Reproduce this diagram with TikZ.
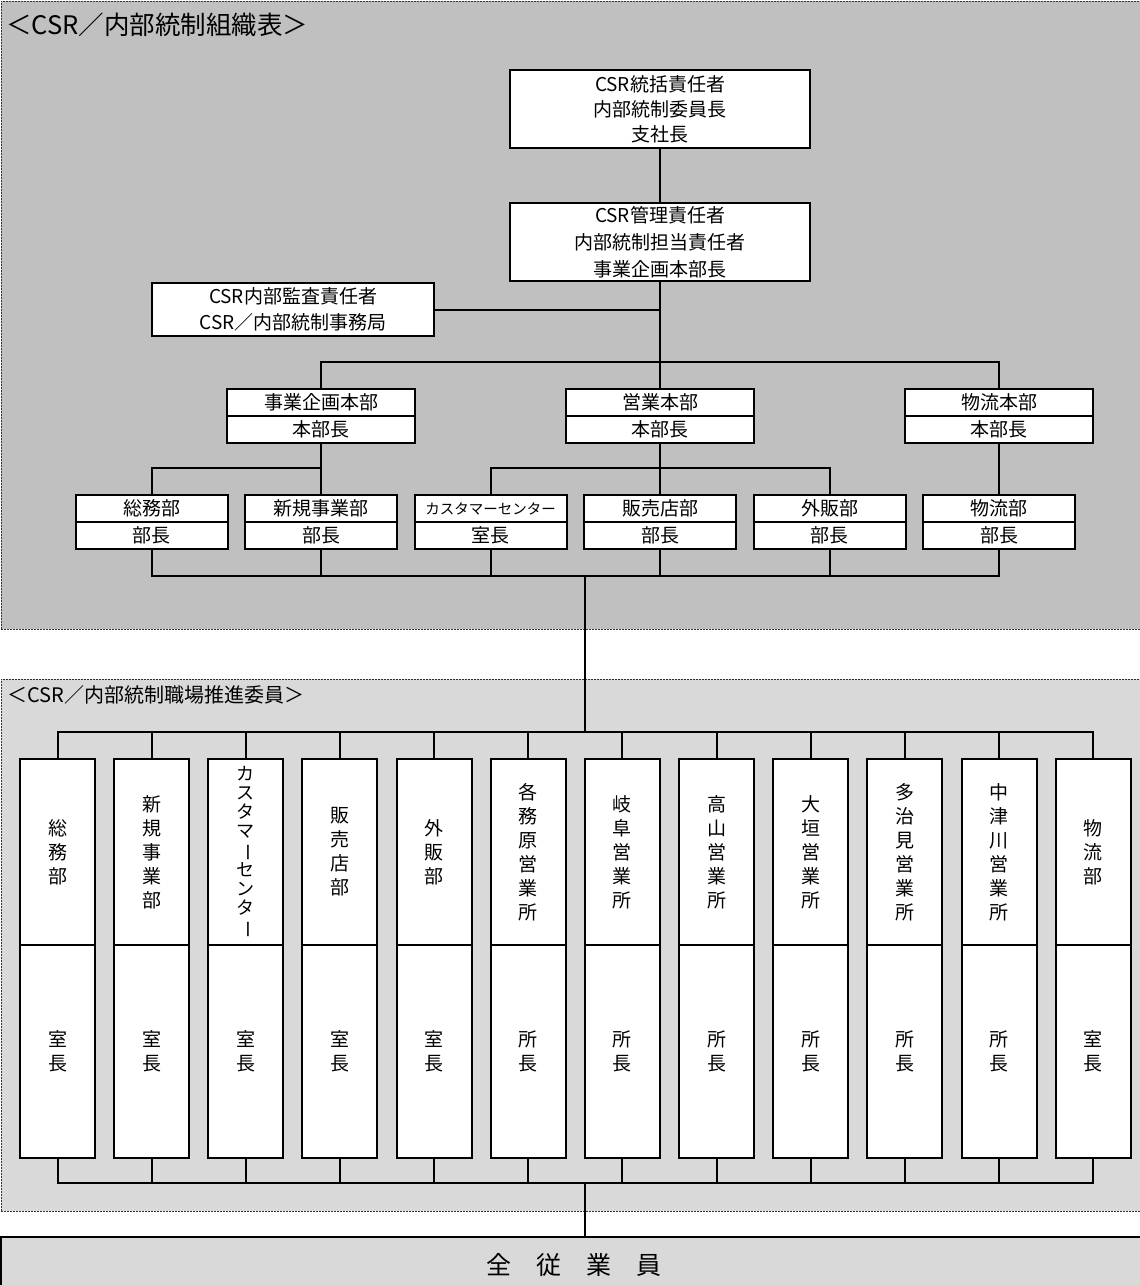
\documentclass[tikz,border=0pt]{standalone}
\usepackage{fontspec}
\setmainfont{Noto Sans CJK JP}
\usepackage{graphicx}
\definecolor{darkbg}{HTML}{C0C0C0}
\definecolor{lightbg}{HTML}{D9D9D9}
\newcommand\vlong{\rotatebox[origin=c]{-90}{ー}}
\tikzset{
  grpframe/.style={draw=black!80, line width=1pt, dash pattern=on 2pt off 1pt, inner sep=0pt},
  cell/.style={draw, line width=2pt, fill=white, inner sep=0pt, align=center},
  conn/.style={line width=2pt},
  bodyfont/.style={font=\fontsize{19}{25}\selectfont},
  hcell/.style={cell, bodyfont, minimum height=27pt},
  divcell/.style={hcell, minimum width=188pt},
  depcell/.style={hcell, minimum width=152pt},
  coltop/.style={cell, minimum width=75pt, minimum height=186pt, font=\fontsize{19}{24}\selectfont},
  colbot/.style={cell, minimum width=75pt, minimum height=213pt, font=\fontsize{19}{24}\selectfont},
}
\begin{document}
\begin{tikzpicture}[x=1pt,y=-1pt]
\useasboundingbox (0,0) rectangle (1140,1285);
% group frames
\node[grpframe, fill=darkbg, minimum width=1149pt, minimum height=628pt] (grp1) at (575.5,315) {};
\node[grpframe, fill=lightbg, minimum width=1149pt, minimum height=532pt] (grp2) at (575.5,945) {};
\node[anchor=west, inner sep=0pt, font=\fontsize{25.5}{30}\selectfont] (title1) at (6,25) {＜CSR／内部統制組織表＞};
\node[anchor=west, inner sep=0pt, font=\fontsize{20}{24}\selectfont] (title2) at (7,695) {＜CSR／内部統制職場推進委員＞};
% top boxes
\node[cell, font=\fontsize{19}{25}\selectfont, minimum width=300pt, minimum height=78pt] (A) at (660,109) {CSR統括責任者\\内部統制委員長\\支社長};
\node[cell, font=\fontsize{19}{27}\selectfont, minimum width=300pt, minimum height=78pt] (B) at (660,242) {CSR管理責任者\\内部統制担当責任者\\事業企画本部長};
\node[cell, font=\fontsize{19}{26}\selectfont, minimum width=282pt, minimum height=53pt] (C) at (293,309.5) {CSR内部監査責任者\\CSR／内部統制事務局};
% division boxes
\node[divcell] (d1t) at (321,402.5) {事業企画本部};
\node[divcell] (d1b) at (321,429.5) {本部長};
\node[divcell] (d2t) at (660,402.5) {営業本部};
\node[divcell] (d2b) at (660,429.5) {本部長};
\node[divcell] (d3t) at (999,402.5) {物流本部};
\node[divcell] (d3b) at (999,429.5) {本部長};
% department boxes
\node[depcell] (p1t) at (151.5,508.5) {総務部};
\node[depcell] (p1b) at (151.5,535.5) {部長};
\node[depcell] (p2t) at (321,508.5) {新規事業部};
\node[depcell] (p2b) at (321,535.5) {部長};
\node[depcell, font=\fontsize{14.5}{17}\selectfont] (p3t) at (490.5,508.5) {カスタマーセンター};
\node[depcell] (p3b) at (490.5,535.5) {室長};
\node[depcell] (p4t) at (660,508.5) {販売店部};
\node[depcell] (p4b) at (660,535.5) {部長};
\node[depcell] (p5t) at (829.5,508.5) {外販部};
\node[depcell] (p5b) at (829.5,535.5) {部長};
\node[depcell] (p6t) at (999,508.5) {物流部};
\node[depcell] (p6b) at (999,535.5) {部長};
% column boxes
\node[coltop] (qt1) at (57.5,852) {総\\務\\部};
\node[coltop] (qt2) at (151.65,852) {新\\規\\事\\業\\部};
\node[coltop, font=\fontsize{18}{19}\selectfont] (qt3) at (245.8,852) {カ\\ス\\タ\\マ\\\vlong\\セ\\ン\\タ\\\vlong};
\node[coltop] (qt4) at (339.95,852) {販\\売\\店\\部};
\node[coltop] (qt5) at (434.1,852) {外\\販\\部};
\node[coltop] (qt6) at (528.25,852) {各\\務\\原\\営\\業\\所};
\node[coltop] (qt7) at (622.4,852) {岐\\阜\\営\\業\\所};
\node[coltop] (qt8) at (716.55,852) {高\\山\\営\\業\\所};
\node[coltop] (qt9) at (810.7,852) {大\\垣\\営\\業\\所};
\node[coltop] (qt10) at (904.85,852) {多\\治\\見\\営\\業\\所};
\node[coltop] (qt11) at (999,852) {中\\津\\川\\営\\業\\所};
\node[coltop] (qt12) at (1093.15,852) {物\\流\\部};
\node[colbot] (qb1) at (57.5,1051.5) {室\\長};
\node[colbot] (qb2) at (151.65,1051.5) {室\\長};
\node[colbot] (qb3) at (245.8,1051.5) {室\\長};
\node[colbot] (qb4) at (339.95,1051.5) {室\\長};
\node[colbot] (qb5) at (434.1,1051.5) {室\\長};
\node[colbot] (qb6) at (528.25,1051.5) {所\\長};
\node[colbot] (qb7) at (622.4,1051.5) {所\\長};
\node[colbot] (qb8) at (716.55,1051.5) {所\\長};
\node[colbot] (qb9) at (810.7,1051.5) {所\\長};
\node[colbot] (qb10) at (904.85,1051.5) {所\\長};
\node[colbot] (qb11) at (999,1051.5) {所\\長};
\node[colbot] (qb12) at (1093.15,1051.5) {室\\長};
% all employees
\node[draw, line width=2pt, fill=lightbg, inner sep=0pt, minimum width=1146pt, minimum height=56pt, font=\fontsize{25}{30}\selectfont] (allbox) at (574,1265) {全　従　業　員};
% connectors
\coordinate (h1) at (660,362);
\coordinate (h2) at (321,468);
\coordinate (h3) at (660,468);
\coordinate (h4) at (585,576);
\coordinate (h5) at (585,732);
\coordinate (h6) at (585,1183);
\draw[conn] (A.south) -- (B.north);
\draw[conn] (B.south) -- (h1);
\draw[conn] (C.east) -- (C.east -| B.south);
\draw[conn] (d1t.north) |- (h1) -| (d3t.north);
\draw[conn] (h1) -- (d2t.north);
\draw[conn] (d1b.south) -- (h2);
\draw[conn] (p1t.north) |- (h2) -- (p2t.north);
\draw[conn] (d2b.south) -- (h3);
\draw[conn] (p3t.north) |- (h3) -| (p5t.north);
\draw[conn] (h3) -- (p4t.north);
\draw[conn] (d3b.south) -- (p6t.north);
\draw[conn] (p1b.south) |- (h4) -| (p6b.south);
\foreach \n in {p2b,p3b,p4b,p5b} \draw[conn] (\n.south) -- (\n.south |- h4);
\draw[conn] (h4) -- (h5);
\draw[conn] (qt1.north) |- (h5) -| (qt12.north);
\foreach \n in {2,...,11} \draw[conn] (qt\n.north) -- (qt\n.north |- h5);
\draw[conn] (qb1.south) |- (h6) -| (qb12.south);
\foreach \n in {2,...,11} \draw[conn] (qb\n.south) -- (qb\n.south |- h6);
\draw[conn] (h6) -- (h6 |- allbox.north);
\end{tikzpicture}
\end{document}
